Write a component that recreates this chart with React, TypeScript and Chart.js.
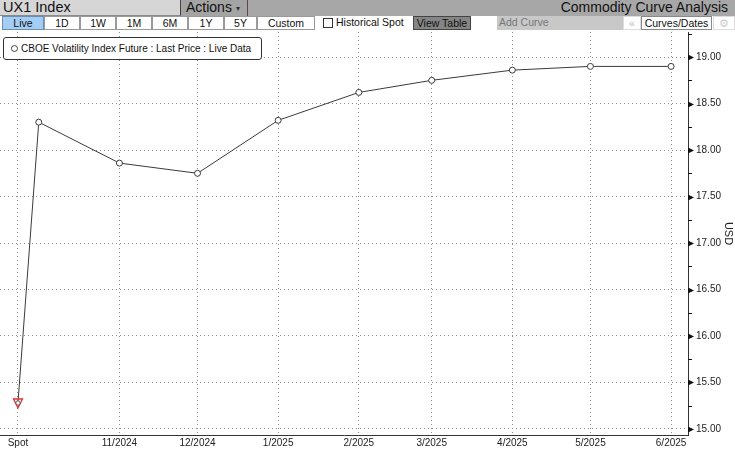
import React, { useEffect, useRef } from 'react';
import { Chart, registerables } from 'chart.js';
Chart.register(...registerables);

// X axis (days from spot) with Bloomberg-style tick labels
const tickDays = [0, 39, 69, 100, 131, 159, 190, 220, 251];
const tickLabels = ['Spot', '11/2024', '12/2024', '1/2025', '2/2025', '3/2025', '4/2025', '5/2025', '6/2025'];
// curve points
const pointDays = [0, 8, 39, 69, 100, 131, 159, 190, 220, 251];
const prices = [15.28, 18.3, 17.86, 17.75, 18.32, 18.62, 18.75, 18.86, 18.9, 18.9];
// y ticks
const yMajor = [15, 15.5, 16, 16.5, 17, 17.5, 18, 18.5, 19];
const yMinor = [15.25, 15.75, 16.25, 16.75, 17.25, 17.75, 18.25, 18.75, 19.25];

const FONT = "'Liberation Sans', Arial, sans-serif";

function makeSpotMarker(): HTMLCanvasElement {
  const c = document.createElement('canvas');
  c.width = 12;
  c.height = 12;
  const g = c.getContext('2d')!;
  g.strokeStyle = '#e03030';
  g.lineWidth = 1.3;
  g.beginPath();
  g.moveTo(1.5, 2);
  g.lineTo(10.5, 2);
  g.lineTo(6, 11);
  g.closePath();
  g.stroke();
  g.fillStyle = '#ffffff';
  g.strokeStyle = '#555555';
  g.lineWidth = 1;
  g.beginPath();
  g.arc(6, 6, 2.2, 0, Math.PI * 2);
  g.fill();
  g.stroke();
  return c;
}

const axisMarks = {
  id: 'axisMarks',
  afterDraw(chart: any) {
    const { ctx, chartArea, scales } = chart;
    const y = scales.y;
    const x0 = chartArea.right;
    ctx.save();
    ctx.fillStyle = '#111';
    ctx.strokeStyle = '#111';
    ctx.lineWidth = 1;
    yMajor.forEach((v) => {
      const py = Math.round(y.getPixelForValue(v)) + 0.5;
      ctx.beginPath();
      ctx.moveTo(x0, py - 3);
      ctx.lineTo(x0 + 6, py);
      ctx.lineTo(x0, py + 3);
      ctx.closePath();
      ctx.fill();
    });
    yMinor.forEach((v) => {
      const py = Math.round(y.getPixelForValue(v)) + 0.5;
      if (py < chartArea.top || py > chartArea.bottom) return;
      ctx.beginPath();
      ctx.moveTo(x0, py);
      ctx.lineTo(x0 + 4, py);
      ctx.stroke();
    });
    ctx.restore();
  },
};

const noPad = (s: any) => {
  s.paddingTop = 0;
  s.paddingBottom = 0;
  s.paddingLeft = 0;
  s.paddingRight = 0;
};

function ChartView() {
  const ref = useRef<HTMLCanvasElement>(null);
  useEffect(() => {
    if (!ref.current) return;
    const spot = makeSpotMarker();
    const chart = new Chart(ref.current, {
      type: 'line',
      data: {
        datasets: [
          {
            label: 'CBOE Volatility Index Future : Last Price : Live Data',
            data: pointDays.map((d, i) => ({ x: d, y: prices[i] })),
            borderColor: '#3a3a3a',
            borderWidth: 1,
            backgroundColor: '#ffffff',
            pointRadius: 3,
            pointBorderWidth: 1,
            pointBorderColor: '#3a3a3a',
            pointBackgroundColor: '#ffffff',
            pointStyle: (ctx: any) => (ctx.dataIndex === 0 ? spot : 'circle'),
            tension: 0,
          } as any,
        ],
      },
      options: {
        animation: false,
        responsive: false,
        maintainAspectRatio: false,
        layout: { autoPadding: false, padding: { left: 0, right: 0, top: 0, bottom: 0 } },
        plugins: {
          legend: { display: false },
          tooltip: { enabled: false },
        },
        scales: {
          x: {
            type: 'linear',
            min: -6.9,
            max: 257.5,
            afterBuildTicks: (s: any) => {
              s.ticks = tickDays.map((v) => ({ value: v }));
            },
            afterFit: (s: any) => {
              s.height = 14;
              noPad(s);
            },
            ticks: {
              autoSkip: false,
              maxRotation: 0,
              padding: 2,
              color: '#222',
              font: { family: FONT, size: 10 },
              callback: (v: any) => {
                const i = tickDays.indexOf(Number(v));
                return i >= 0 ? tickLabels[i] : '';
              },
            },
            grid: { color: '#8c8c8c', drawTicks: false, lineWidth: 1 },
            border: { display: true, color: '#333', width: 1, dash: [1, 3] },
          },
          y: {
            type: 'linear',
            position: 'right',
            min: 14.935,
            max: 19.27,
            afterBuildTicks: (s: any) => {
              s.ticks = yMajor.map((v) => ({ value: v }));
            },
            afterFit: (s: any) => {
              s.width = 47;
              noPad(s);
            },
            ticks: {
              padding: 8,
              color: '#222',
              font: { family: FONT, size: 10 },
              callback: (v: any) => Number(v).toFixed(2),
            },
            grid: { color: '#8c8c8c', drawTicks: false, lineWidth: 1 },
            border: { display: true, color: '#333', width: 1, dash: [1, 3] },
            title: {
              display: true,
              text: 'USD',
              color: '#222',
              font: { family: FONT, size: 11 },
              padding: { top: 0, bottom: 2 },
            },
          },
        },
      },
      plugins: [axisMarks],
    });
    return () => chart.destroy();
  }, []);
  return <canvas ref={ref} width={735} height={417} style={{ display: 'block' }} />;
}

const btn = (left: number, width: number, text: string, extra: React.CSSProperties = {}) => (
  <div
    style={{
      position: 'absolute',
      left,
      top: 16,
      width,
      height: 14,
      boxSizing: 'border-box',
      border: '1px solid #9a9a9a',
      background: '#ffffff',
      fontSize: 10.5,
      lineHeight: '12px',
      textAlign: 'center',
      color: '#111',
      whiteSpace: 'nowrap',
      ...extra,
    }}
  >
    {text}
  </div>
);

export default function App() {
  return (
    <div
      style={{
        position: 'fixed',
        left: 0,
        top: 0,
        width: 735,
        height: 449,
        background: '#ffffff',
        fontFamily: FONT,
        overflow: 'hidden',
      }}
    >
      {/* row 1 */}
      <div style={{ position: 'absolute', left: 0, top: 0, width: 735, height: 16, background: '#a7a7a7' }} />
      <div
        style={{
          position: 'absolute',
          left: 0,
          top: 0,
          width: 181,
          height: 16,
          boxSizing: 'border-box',
          background: '#d6d6d6',
          borderRight: '1px solid #4a4040',
          borderBottom: '1px solid #8a8a8a',
          fontSize: 14.5,
          lineHeight: '15px',
          paddingLeft: 3,
          color: '#111',
        }}
      >
        UX1 Index
      </div>
      <div
        style={{
          position: 'absolute',
          left: 181,
          top: 0,
          width: 67,
          height: 16,
          boxSizing: 'border-box',
          background: '#a4a4a4',
          borderRight: '1px solid #5a4a4a',
          fontSize: 14,
          lineHeight: '15px',
          paddingLeft: 5,
          color: '#111',
        }}
      >
        Actions <span style={{ fontSize: 8, verticalAlign: 'middle', color: '#333' }}>▾</span>
      </div>
      <div
        style={{
          position: 'absolute',
          right: 7,
          top: 0,
          height: 16,
          fontSize: 14,
          lineHeight: '15px',
          color: '#111',
        }}
      >
        Commodity Curve Analysis
      </div>

      {/* row 2 */}
      {btn(2, 42, 'Live', { background: '#a3cdf4', border: '1px solid #6a8fb0' })}
      {btn(44, 36, '1D')}
      {btn(80, 36, '1W')}
      {btn(116, 36, '1M')}
      {btn(152, 36, '6M')}
      {btn(188, 36, '1Y')}
      {btn(224, 33, '5Y')}
      {btn(257, 58, 'Custom')}
      <div
        style={{
          position: 'absolute',
          left: 323,
          top: 18,
          width: 10,
          height: 10,
          boxSizing: 'border-box',
          border: '1px solid #333',
          background: '#fff',
        }}
      />
      <div style={{ position: 'absolute', left: 336, top: 16, fontSize: 10.5, lineHeight: '13px', color: '#111' }}>
        Historical Spot
      </div>
      {btn(413, 58, 'View Table', { background: '#858585', border: '1px solid #444' })}
      <div
        style={{
          position: 'absolute',
          left: 497,
          top: 16,
          width: 126,
          height: 14,
          boxSizing: 'border-box',
          background: '#c8c8c8',
          fontSize: 10.5,
          lineHeight: '13px',
          paddingLeft: 2,
          color: '#777',
        }}
      >
        Add Curve
      </div>
      {btn(623, 18, '«', { color: '#bbb', border: '1px solid #ddd' })}
      {btn(641, 71, 'Curves/Dates', { border: '1px solid #888' })}
      {btn(713, 22, '⚙', { color: '#ccc', border: '1px solid #ddd' })}

      {/* chart */}
      <div style={{ position: 'absolute', left: 0, top: 32, width: 735, height: 417 }}>
        <ChartView />
      </div>

      {/* legend */}
      <div
        style={{
          position: 'absolute',
          left: 3,
          top: 37,
          width: 259,
          height: 23,
          boxSizing: 'border-box',
          border: '1px solid #333',
          borderRadius: 3,
          background: '#fff',
          fontSize: 10,
          lineHeight: '21px',
          paddingLeft: 17,
          color: '#111',
          whiteSpace: 'nowrap',
        }}
      >
        <span
          style={{
            position: 'absolute',
            left: 7,
            top: 7,
            width: 5,
            height: 5,
            border: '1px solid #444',
            borderRadius: '50%',
          }}
        />
        CBOE Volatility Index Future : Last Price : Live Data
      </div>
    </div>
  );
}
